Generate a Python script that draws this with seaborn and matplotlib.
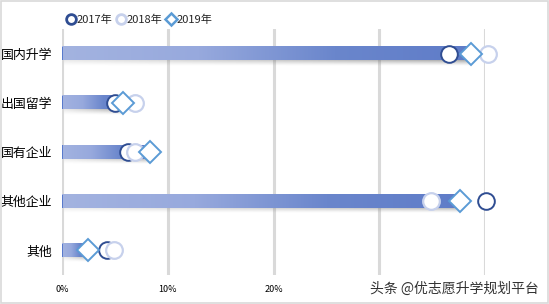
import numpy as np
import pandas as pd
import matplotlib
matplotlib.use("Agg")
import matplotlib.pyplot as plt
import seaborn as sns
from matplotlib.colors import LinearSegmentedColormap
from matplotlib.lines import Line2D

categories = ["国内升学", "出国留学", "国有企业", "其他企业", "其他"]
v2017 = [36.6, 5.0, 6.2, 40.1, 4.3]
v2018 = [40.3, 6.9, 6.9, 34.9, 4.9]
v2019 = [38.7, 5.8, 8.3, 37.6, 2.5]
xticks = [0, 10, 20, 30, 40]
xtick_labels = ["0%", "10%", "20%", "", ""]

sns.set_theme(style="white")
plt.rcParams['font.family'] = ['Noto Sans CJK SC', 'DejaVu Sans']

fig = plt.figure(figsize=(5.49, 3.04), dpi=100)
W, H = 549, 304
ax = fig.add_axes([62 / W, 1 - 275 / H, (485 - 62) / W, (275 - 29) / H])

df = pd.DataFrame({"cat": categories, "v": v2019})
sns.barplot(data=df, x="v", y="cat", orient="h", ax=ax, width=0.27,
            color="#7d93d4", edgecolor="none", zorder=3)

cmap = LinearSegmentedColormap.from_list("g", ["#a3b3e0", "#97a9dd", "#6a86cc", "#5f7cc8"])
grad = np.linspace(0, 1, 256).reshape(1, -1)

nx, ny = 256, 32
hx = np.linspace(0.25, 1.0, nx)[None, :]
vy = np.linspace(1.0, 0.0, ny)[:, None] ** 1.3
shadow = np.zeros((ny, nx, 4))
shadow[..., :3] = 0.45
shadow[..., 3] = 0.75 * hx * vy

for p in list(ax.patches):
    x0, y0, w, h = p.get_x(), p.get_y(), p.get_width(), p.get_height()
    p.set_alpha(0)
    ax.imshow(shadow, aspect="auto", zorder=2, interpolation="bilinear",
              extent=(x0 + 0.2, x0 + w, y0 + h + 0.11, y0 + h - 0.02))
    ax.imshow(grad, cmap=cmap, aspect="auto", zorder=3,
              extent=(x0, x0 + w, y0 + h, y0))
    ax.plot([x0, x0], [y0, y0 + h], color="#4a6fc9", lw=1.2, zorder=4, solid_capstyle="butt")

ypos = np.arange(len(categories))
ms = 12
ax.plot(v2018, ypos, ls="none", marker="o", ms=ms, mfc="white", mec="#c7d1ec", mew=1.6,
        zorder=6, clip_on=False)
ax.plot(v2017, ypos, ls="none", marker="o", ms=ms, mfc="white", mec="#2f4d92", mew=1.4,
        zorder=5, clip_on=False)
ax.plot(v2019, ypos, ls="none", marker="D", ms=ms * 0.92, mfc="white", mec="#5b9bd5", mew=1.4,
        zorder=7, clip_on=False)

ax.set_xlim(0, 40)
ax.set_ylim(len(categories) - 0.5, -0.5)
ax.set_xticks(xticks)
ax.set_xticklabels(xtick_labels, fontsize=6.5)
ax.tick_params(axis="x", length=0, pad=7)
ax.tick_params(axis="y", length=0, pad=7, labelsize=9.3)
ax.set_xlabel("")
ax.set_ylabel("")
for s in ax.spines.values():
    s.set_visible(False)
for xt in xticks:
    ax.axvline(xt, color="#d9d9d9", lw=2.2, zorder=0)
for t in ax.get_xticklabels() + ax.get_yticklabels():
    t.set_color("#000000")

handles = [
    Line2D([], [], ls="none", marker="o", ms=7, mfc="white", mec="#2f4d92", mew=2.0),
    Line2D([], [], ls="none", marker="o", ms=7, mfc="white", mec="#c7d1ec", mew=2.0),
    Line2D([], [], ls="none", marker="D", ms=6, mfc="white", mec="#5b9bd5", mew=1.8),
]
fig.legend(handles, ["2017年", "2018年", "2019年"], loc="center", bbox_to_anchor=(139 / W, 1 - 20 / H),
           ncol=3, frameon=False, fontsize=8, handletextpad=0.0, columnspacing=0.3,
           handlelength=1.0)

fig.text(370 / W, 1 - 289 / H, "头条 @优志愿升学规划平台", fontsize=10, color="#333333",
         va="center", ha="left")

fig.patches.append(plt.Rectangle((0.002, 0.003), 0.996, 0.994, transform=fig.transFigure,
                                 fill=False, ec="#d9d9d9", lw=1.2))

fig.savefig("out.png", dpi=100)
